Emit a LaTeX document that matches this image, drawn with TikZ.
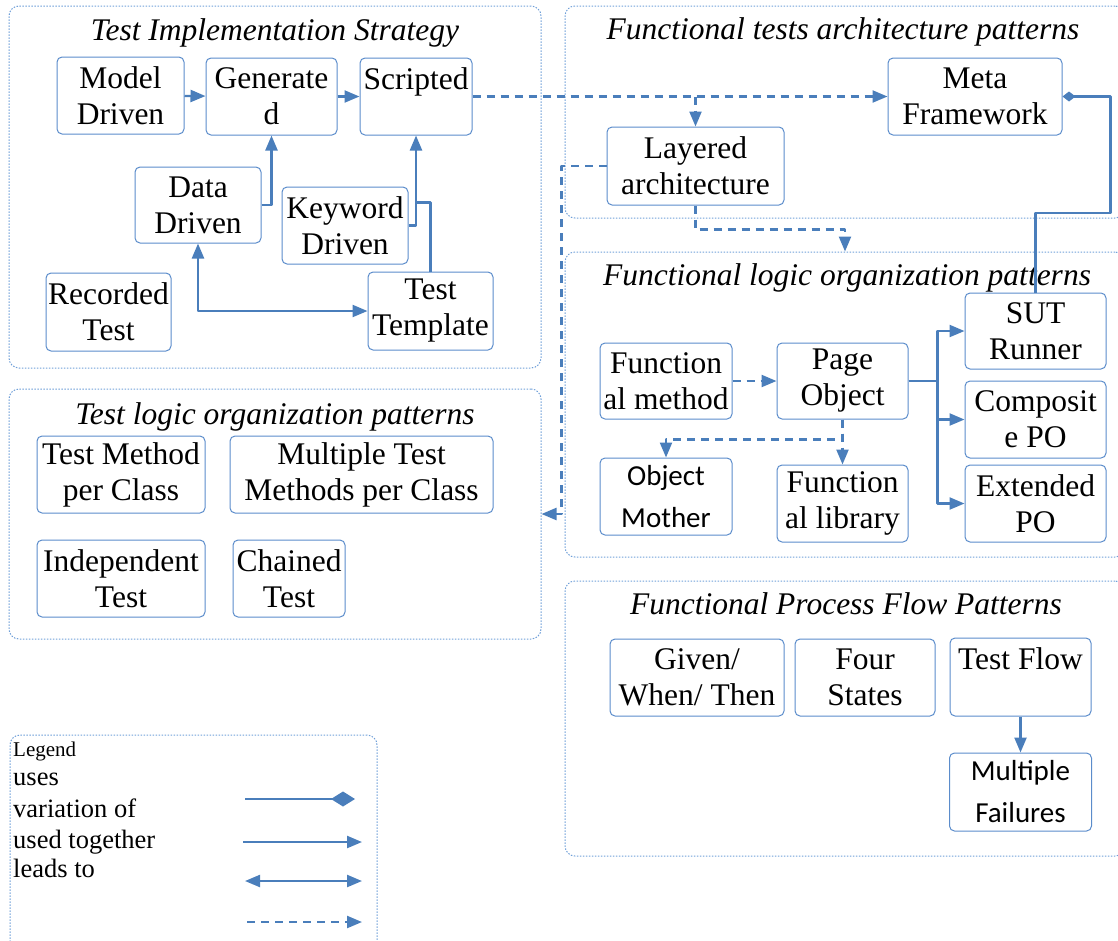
\documentclass[tikz,border=0pt]{standalone}
\usepackage{fontspec}
\setmainfont{Liberation Serif}
\newfontfamily\calibrifont{Carlito}
\usetikzlibrary{arrows.meta,positioning,calc}
\definecolor{boxblue}{HTML}{5B8CCB}
\definecolor{lineblue}{HTML}{4A7EBB}
\definecolor{frameblue}{HTML}{6F9FD8}
\tikzset{
  sz/.style 2 args={minimum width=#1, minimum height=#2},
  pbox/.style={draw=boxblue, line width=1pt, rounded corners=5pt, inner sep=0pt, align=center, font=\fontsize{31.5}{36}\selectfont},
  sbox/.style={pbox, font=\calibrifont\fontsize{29}{42}\selectfont},
  grp/.style={draw=frameblue, line width=1pt, dash pattern=on 1.5pt off 1.5pt, rounded corners=10pt, inner sep=0pt},
  grptitle/.style={font=\fontsize{31.5}{36}\selectfont\itshape, anchor=base, inner sep=0pt},
  legtext/.style={anchor=base west, inner sep=0pt, font=\fontsize{26.5}{31}\selectfont},
  flow/.style={draw=lineblue, line width=2.3pt, -{Triangle[length=15pt,width=12pt]}},
  flowdash/.style={flow, dash pattern=on 8pt off 6pt},
  both/.style={flow, {Triangle[length=15pt,width=12pt]}-{Triangle[length=15pt,width=12pt]}},
  plain/.style={draw=lineblue, line width=2.3pt},
}
\begin{document}
\begin{tikzpicture}[x=1pt,y=-1pt,line join=round]
\useasboundingbox (0,0) rectangle (1118,940);
\clip (0,0) rectangle (1118,940);
% group frames
\node[grp, sz={532}{362}] (g1) at (275,187) {};
\node[grp, sz={560}{212}] (g2) at (845,112) {};
\node[grp, sz={560}{305}] (g3) at (845,404.5) {};
\node[grp, sz={532}{250}] (g4) at (275,514) {};
\node[grp, sz={560}{275}] (g5) at (845,718.5) {};
\node[grp, sz={367}{215}] (g6) at (193.5,842.5) {};
\node[grptitle] (t1) at (275,40) {Test Implementation Strategy};
\node[grptitle] (t2) at (843,39) {Functional tests architecture patterns};
\node[grptitle] (t3) at (847,285) {Functional logic organization patterns};
\node[grptitle] (t4) at (275,424) {Test logic organization patterns};
\node[grptitle] (t5) at (846,614) {Functional Process Flow Patterns};

% test implementation strategy
\node[pbox, sz={127}{77}] (md) at (120.5,95.5) {Model\\Driven};
\node[pbox, sz={131}{77}] (gen) at (271.5,96.5) {Generate\\d};
\node[pbox, sz={112}{77}] (scr) at (416,96.5) {Scripted\\~};
\node[pbox, sz={126}{76}] (dd) at (198,205) {Data\\Driven};
\node[pbox, sz={126}{77}] (kd) at (345,225.5) {Keyword\\Driven};
\node[pbox, sz={125}{78}] (rt) at (108.5,312) {Recorded\\Test};
\node[pbox, sz={125}{78}] (tt) at (430.5,311) {Test\\Template};
\draw[flow] (md) -- (gen);
\draw[flow] (gen) -- (scr);
\draw[flow] (dd.east) -| (gen.south);
\draw[flow] (kd.east) -| (scr.south);
\draw[plain] (tt.north) -- ++(0,-69) -- ++(-14.5,0);
\draw[both] (dd.south) |- (tt.west);

% architecture
\node[pbox, sz={174}{77}] (mf) at (975,96.5) {Meta\\Framework};
\node[pbox, sz={177}{78}] (la) at (695.5,166) {Layered\\architecture};
\draw[flowdash] (scr.east) -- (mf.west);
\draw[flowdash] (la.north |- scr.east) -- (la.north);
\draw[flowdash] (la.west) -- ++(-45,0) |- (g4.east);
\draw[flowdash] (la.south) -- ++(0,24) -| (g3.north);

% functional logic organization
\node[pbox, sz={141}{76}] (sut) at (1035.5,331) {SUT\\Runner};
\node[pbox, sz={141}{77}] (cpo) at (1035.5,419.5) {Composit\\e PO};
\node[pbox, sz={141}{77}] (epo) at (1035.5,503.5) {Extended\\PO};
\node[pbox, sz={132}{76}] (fm) at (666,381) {Function\\al method};
\node[pbox, sz={131}{76}] (po) at (842.5,381) {Page\\Object};
\node[sbox, sz={132}{77}] (om) at (666,496.5) {Object\\Mother};
\node[pbox, sz={131}{77}] (fl) at (842.5,503.5) {Function\\al library};
\draw[plain, {Diamond[length=13pt,width=10pt]}-] (mf.east) -- ++(48,0) -- ++(0,116.5) -| (sut.north);
\foreach \n in {sut,cpo,epo}
  \draw[flow] (po.east) -- ++(29,0) |- (\n.west);
\draw[flowdash] (fm) -- (po);
\draw[flowdash] (po.south) -- (fl.north);
\draw[flowdash] (po.south) -- ++(0,20) -| (om.north);

% test logic organization
\node[pbox, sz={168}{77}] (tmpc) at (121,474.5) {Test Method\\per Class};
\node[pbox, sz={263}{77}] (mtmpc) at (361.5,474.5) {Multiple Test\\Methods per Class};
\node[pbox, sz={168}{77}] (it) at (121,578.5) {Independent\\Test};
\node[pbox, sz={112}{77}] (ct) at (289,578.5) {Chained\\Test};

% process flow
\node[pbox, sz={174}{77}] (gwt) at (697,677.5) {Given/\\When/ Then};
\node[pbox, sz={140}{77}] (fs) at (865,677.5) {Four\\States};
\node[pbox, sz={141}{78}] (tf) at (1020.5,677) {Test Flow\\~};
\node[sbox, sz={142}{78}] (mfl) at (1020.5,792) {Multiple\\Failures};
\draw[flow] (tf) -- (mfl);

% legend
\node[legtext, font=\fontsize{21}{24}\selectfont] (leg0) at (13,756) {Legend};
\foreach \t/\y [count=\i] in {uses/785, variation of/817, used together/848, leads to/877}
  \node[legtext] (leg\i) at (13,\y) {\t};
\coordinate (la1) at (245,799); \coordinate (lb1) at (355,799);
\coordinate (la2) at (243,842); \coordinate (lb2) at (362,842);
\coordinate (la3) at (245,881); \coordinate (lb3) at (362,881);
\coordinate (la4) at (247,922); \coordinate (lb4) at (362,922);
\draw[plain, -{Diamond[length=24pt,width=15pt]}] (la1) -- (lb1);
\draw[flow] (la2) -- (lb2);
\draw[both] (la3) -- (lb3);
\draw[flowdash] (la4) -- (lb4);
\end{tikzpicture}
\end{document}
